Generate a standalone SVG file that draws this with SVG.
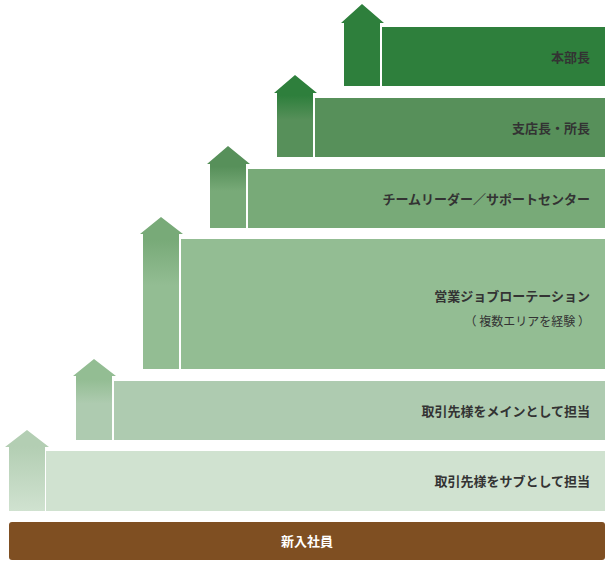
<svg xmlns="http://www.w3.org/2000/svg" width="610" height="567" viewBox="0 0 610 567">
<style>
text{font-family:"Noto Sans CJK JP","Noto Sans",sans-serif;font-weight:bold;font-size:13px;fill:#333;text-anchor:end}
.w{fill:#fff;text-anchor:middle}
</style>
<defs>
<linearGradient id="g1" x1="0" y1="0" x2="0" y2="1"><stop offset="0.2" stop-color="#b3ceb3"/><stop offset="1" stop-color="#d0e2d0"/></linearGradient>
<linearGradient id="g2" x1="0" y1="0" x2="0" y2="1"><stop offset="0.25" stop-color="#93bd93"/><stop offset="0.55" stop-color="#aecbb0"/></linearGradient>
<linearGradient id="g3" x1="0" y1="0" x2="0" y2="1"><stop offset="0.15" stop-color="#78aa78"/><stop offset="0.45" stop-color="#93bd93"/></linearGradient>
<linearGradient id="g4" x1="0" y1="0" x2="0" y2="1"><stop offset="0.25" stop-color="#57905a"/><stop offset="0.55" stop-color="#78aa78"/></linearGradient>
<linearGradient id="g5" x1="0" y1="0" x2="0" y2="1"><stop offset="0.25" stop-color="#2e7f3c"/><stop offset="0.55" stop-color="#57905a"/></linearGradient>
</defs>
<g id="base"><rect x="9" y="522" width="596" height="38" rx="3" fill="#7f4f22"/><text class="w" x="307" y="546">新入社員</text></g>
<g id="l1"><path d="M9 447H5L27 430L49 447H45V511H9Z" fill="url(#g1)"/><rect x="46" y="451" width="559" height="60" fill="#d0e2d0"/><text x="590" y="486">取引先様をサブとして担当</text></g>
<g id="l2"><path d="M76 376H73L94 359L116 376H112V440H76Z" fill="url(#g2)"/><rect x="114" y="381" width="491" height="59" fill="#aecbb0"/><text x="590" y="416">取引先様をメインとして担当</text></g>
<g id="l3"><path d="M143 234H140L161 217L183 234H179V369H143Z" fill="url(#g3)"/><rect x="181" y="239" width="424" height="130" fill="#93bd93"/><text x="590" y="301">営業ジョブローテーション</text><text x="590" y="326" style="font-size:12px;font-weight:normal">（ 複数エリアを経験 ）</text></g>
<g id="l4"><path d="M210 164H207L228 146L250 164H246V228H210Z" fill="url(#g4)"/><rect x="248" y="169" width="357" height="59" fill="#78aa78"/><text x="590" y="204">チームリーダー／サポートセンター</text></g>
<g id="l5"><path d="M277 93H274L295 75L317 93H313V157H277Z" fill="url(#g5)"/><rect x="315" y="98" width="290" height="59" fill="#57905a"/><text x="590" y="133">支店長・所長</text></g>
<g id="l6"><path d="M344 23H341L362 4L384 23H380V86H344Z" fill="#2e7f3c"/><rect x="382" y="27" width="223" height="59" fill="#2e7f3c"/><text x="590" y="62">本部長</text></g>
<g id="connectors"/>
</svg>
